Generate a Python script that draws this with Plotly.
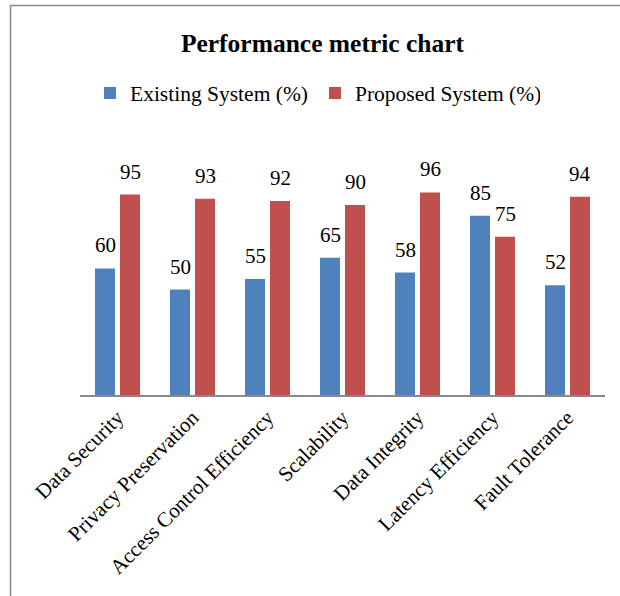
import plotly.graph_objects as go

categories = ["Data Security", "Privacy Preservation", "Access Control Efficiency",
              "Scalability", "Data Integrity", "Latency Efficiency", "Fault Tolerance"]
existing = [60, 50, 55, 65, 58, 85, 52]
proposed = [95, 93, 92, 90, 96, 75, 94]
series_names = ["Existing System (%)", "Proposed System (%)"]

W, H = 620, 596
L, R, T, B = 80, 15, 184, 201
FONT = "Liberation Serif, Times New Roman, serif"
BLUE = "#4F81BD"
RED = "#C0504D"
GRAY = "#898989"

fig = go.Figure()
fig.add_trace(go.Bar(x=categories, y=existing, name=series_names[0], marker_color=BLUE,
                     marker_line_width=0))
fig.add_trace(go.Bar(x=categories, y=proposed, name=series_names[1], marker_color=RED,
                     marker_line_width=0))

annotations = []
for cat, v in zip(categories, existing):
    annotations.append(dict(x=cat, y=v, text=str(v), showarrow=False, xshift=-12.5,
                            yshift=23, yanchor="middle", font=dict(family=FONT, size=21, color="black")))
for cat, v in zip(categories, proposed):
    annotations.append(dict(x=cat, y=v, text=str(v), showarrow=False, xshift=12.5,
                            yshift=23, yanchor="middle", font=dict(family=FONT, size=21, color="black")))

pw = W - L - R
ph = H - T - B
def px(xp):
    return (xp - L) / pw
def py(yp):
    return (H - B - yp) / ph

shapes = [
    dict(type="line", xref="paper", yref="paper", x0=px(10), x1=px(W + 5), y0=py(5.5), y1=py(5.5),
         line=dict(color=GRAY, width=1.5)),
    dict(type="line", xref="paper", yref="paper", x0=px(10.5), x1=px(10.5), y0=py(5), y1=py(H + 5),
         line=dict(color=GRAY, width=1.5)),
]

fig.update_layout(
    width=W, height=H,
    margin=dict(l=L, r=R, t=T, b=B),
    paper_bgcolor="white", plot_bgcolor="white",
    barmode="group", bargap=0.333, bargroupgap=0.2,
    title=dict(text="<b>Performance metric chart</b>", x=px(322.5), xanchor="center", xref="paper",
               y=1 - 43 / H, yanchor="middle", font=dict(family=FONT, size=25.5, color="black")),
    legend=dict(orientation="h", x=px(90), xanchor="left", y=py(93), yanchor="middle",
                font=dict(family=FONT, size=21.5, color="black"), entrywidth=180, entrywidthmode="pixels",
                bgcolor="rgba(0,0,0,0)"),
    xaxis=dict(showline=True, linecolor=GRAY, linewidth=2, tickangle=-45, ticks="",
               tickfont=dict(family=FONT, size=21, color="black"), showgrid=False),
    yaxis=dict(range=[0, 100], visible=False, showgrid=False, zeroline=False),
    annotations=annotations,
    shapes=shapes,
    showlegend=True,
)

fig.write_html("out.html")
